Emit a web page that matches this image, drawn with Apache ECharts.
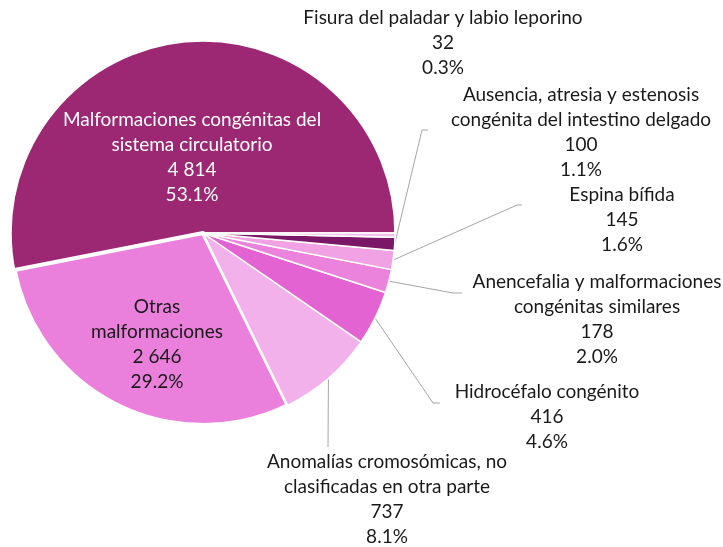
<!DOCTYPE html>
<html>
<head>
<meta charset="utf-8">
<script src="https://cdn.jsdelivr.net/npm/echarts@6/dist/echarts.min.js"></script>
<style>
  html, body { margin: 0; padding: 0; background: #ffffff; }
  #chart { width: 723px; height: 547px; }
</style>
</head>
<body>
<div id="chart"></div>
<script>
// Congenital malformations by group (cases)
const categories = [
  'Malformaciones congénitas del\nsistema circulatorio',
  'Otras\nmalformaciones',
  'Anomalías cromosómicas, no\nclasificadas en otra parte',
  'Hidrocéfalo congénito',
  'Anencefalia y malformaciones\ncongénitas similares',
  'Espina bífida',
  'Ausencia, atresia y estenosis\ncongénita del intestino delgado',
  'Fisura del paladar y labio leporino'
];
const cases = [4814, 2646, 737, 416, 178, 145, 100, 32];
const sliceColors = ['#9c2773', '#ea80db', '#f2b1ea', '#e463d3', '#eb82dc', '#f0a2e4', '#7a1766', '#f2c0ec'];

const fmtNumber = v => String(v).replace(/\B(?=(\d{3})+(?!\d))/g, ' ');

// Label placement: text centre x, top y, and optional leader elbow [x, y] / end [x, y]
const labelSpots = [
  { x: 192, y: 107, inside: true, color: '#ffffff' },
  { x: 157, y: 294, inside: true, color: '#1a1a1a' },
  { x: 387, y: 449, elbow: [328, 447], end: [328, 447] },
  { x: 547, y: 379, elbow: [433, 403], end: [440, 403] },
  { x: 597, y: 269, elbow: [453, 293], end: [462, 293] },
  { x: 622, y: 182, elbow: [517, 205], end: [522, 205] },
  { x: 581, y: 82,  elbow: [422, 130], end: [428, 130] },
  { x: 443, y: 5,   noLine: true }
];

const chart = echarts.init(document.getElementById('chart'), null, { renderer: 'canvas' });

chart.setOption({
  animation: false,
  backgroundColor: '#ffffff',
  series: [{
    type: 'pie',
    center: [203, 233],
    radius: 192,
    startAngle: 0,
    clockwise: false,
    percentPrecision: 1,
    avoidLabelOverlap: false,
    itemStyle: { borderColor: '#ffffff', borderWidth: 1.5 },
    label: {
      show: true,
      position: 'outside',
      fontFamily: 'Lato',
      fontSize: 19,
      lineHeight: 25,
      color: '#1a1a1a',
      formatter: p => p.name + '\n' + fmtNumber(p.value) + '\n' + p.percent.toFixed(1) + '%'
    },
    labelLine: { show: true, lineStyle: { color: '#a6a6a6', width: 1 } },
    emphasis: { disabled: true },
    labelLayout: params => {
      const s = labelSpots[params.dataIndex];
      const out = { x: s.x, y: s.y, align: 'center', verticalAlign: 'top' };
      if (!s.inside && !s.noLine && params.labelLinePoints) {
        const start = params.labelLinePoints[0];
        out.labelLinePoints = [start, s.elbow, s.end];
      }
      return out;
    },
    data: cases.map((v, i) => {
      const s = labelSpots[i];
      const item = {
        name: categories[i],
        value: v,
        itemStyle: { color: sliceColors[i] }
      };
      if (i === 1) item.itemStyle.borderWidth = 4;
      if (s.inside) {
        item.label = { position: 'inside', color: s.color };
        item.labelLine = { show: false };
      } else if (s.noLine) {
        item.labelLine = { show: false };
      }
      return item;
    })
  }]
});
</script>
</body>
</html>
